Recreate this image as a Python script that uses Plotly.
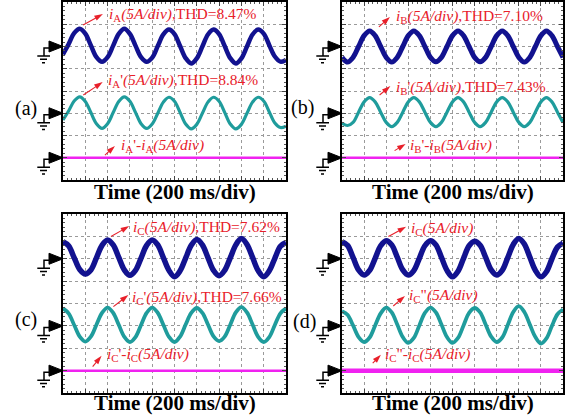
import plotly.graph_objects as go

W, H = 573, 420

# time axis in oscilloscope divisions (0.25 div sampling)
t_div = [k / 4 for k in range(41)]

# ---- panel (a): phase A ----
a_iA = [5.65, 6.10, 6.60, 6.80, 6.58, 6.05, 5.52, 5.31, 5.52, 6.04, 6.57, 6.80, 6.57, 6.04,
        5.52, 5.31, 5.50, 6.02, 6.55, 6.76, 6.56, 6.02, 5.48, 5.24, 5.47, 6.00, 6.54, 6.76,
        6.56, 6.02, 5.48, 5.24, 5.47, 6.00, 6.54, 6.76, 6.58, 6.06, 5.55, 5.32, 5.40]
a_iA2 = [2.70, 3.10, 3.55, 3.74, 3.53, 3.03, 2.53, 2.32, 2.53, 3.03, 3.53, 3.74, 3.54, 3.04,
         2.53, 2.32, 2.52, 3.00, 3.50, 3.72, 3.54, 3.04, 2.52, 2.30, 2.50, 3.00, 3.50, 3.72,
         3.54, 3.04, 2.52, 2.30, 2.50, 3.00, 3.50, 3.72, 3.55, 3.06, 2.56, 2.36, 2.42]
a_diff = [1.0] * 41

# ---- panel (b): phase B ----
b_iB = [5.51, 5.30, 5.51, 6.00, 6.49, 6.70, 6.49, 6.00, 5.51, 5.30, 5.51, 6.00, 6.49, 6.70,
        6.49, 6.00, 5.51, 5.31, 5.51, 6.00, 6.49, 6.70, 6.49, 6.00, 5.51, 5.31, 5.51, 6.00,
        6.49, 6.70, 6.49, 6.00, 5.51, 5.30, 5.51, 6.00, 6.49, 6.70, 6.49, 6.00, 5.51]
b_iB2 = [2.56, 2.45, 2.59, 3.05, 3.51, 3.70, 3.51, 3.05, 2.59, 2.40, 2.59, 3.05, 3.51, 3.70,
         3.51, 3.05, 2.59, 2.40, 2.59, 3.05, 3.51, 3.70, 3.51, 3.05, 2.59, 2.40, 2.59, 3.05,
         3.51, 3.70, 3.51, 3.05, 2.59, 2.40, 2.59, 3.05, 3.51, 3.70, 3.51, 3.05, 2.59]
b_diff = [1.0] * 41

# ---- panel (c): phase C ----
c_iC = [6.76, 6.58, 6.05, 5.52, 5.32, 5.50, 6.04, 6.60, 6.84, 6.62, 6.06, 5.50, 5.26, 5.48,
        6.03, 6.60, 6.84, 6.62, 6.05, 5.48, 5.20, 5.46, 6.03, 6.60, 6.86, 6.62, 6.05, 5.48,
        5.24, 5.48, 6.04, 6.62, 6.90, 6.64, 6.06, 5.47, 5.20, 5.46, 6.02, 6.56, 6.72]
c_iC2 = [3.78, 3.56, 3.04, 2.52, 2.30, 2.52, 3.05, 3.58, 3.82, 3.58, 3.05, 2.51, 2.28, 2.50,
         3.04, 3.58, 3.82, 3.58, 3.05, 2.51, 2.28, 2.52, 3.06, 3.58, 3.80, 3.58, 3.06, 2.53,
         2.32, 2.52, 3.05, 3.60, 3.84, 3.60, 3.06, 2.51, 2.28, 2.50, 3.04, 3.56, 3.78]
c_diff = [1.0] * 41

# ---- panel (d): phase C, second filter ----
d_iC = [6.76, 6.60, 6.06, 5.50, 5.27, 5.48, 6.02, 6.58, 6.81, 6.62, 6.07, 5.50, 5.27, 5.47,
        6.02, 6.58, 6.81, 6.62, 6.06, 5.48, 5.19, 5.44, 6.02, 6.58, 6.78, 6.60, 6.06, 5.50,
        5.27, 5.48, 6.05, 6.64, 6.91, 6.66, 6.07, 5.48, 5.19, 5.42, 6.00, 6.52, 6.70]
d_iC3 = [3.66, 3.50, 3.02, 2.50, 2.28, 2.48, 3.02, 3.56, 3.82, 3.60, 3.06, 2.50, 2.24, 2.46,
         3.02, 3.58, 3.82, 3.60, 3.06, 2.50, 2.24, 2.46, 3.02, 3.58, 3.80, 3.60, 3.06, 2.52,
         2.28, 2.48, 3.04, 3.62, 3.88, 3.62, 3.06, 2.50, 2.21, 2.44, 3.00, 3.52, 3.73]
d_diff = [1.0] * 41

ground_levels = [6, 3, 1]  # channel reference levels (div)

labels = {
    "a": ["<i>i</i><sub>A</sub><i>(5A/div)</i>,THD=8.47%",
          "<i>i</i><sub>A</sub>'<i>(5A/div)</i>,THD=8.84%",
          "<i>i</i><sub>A</sub>'-<i>i</i><sub>A</sub><i>(5A/div)</i>"],
    "b": ["<i>i</i><sub>B</sub><i>(5A/div)</i>,THD=7.10%",
          "<i>i</i><sub>B</sub>'<i>(5A/div)</i>,THD=7.43%",
          "<i>i</i><sub>B</sub>'-<i>i</i><sub>B</sub><i>(5A/div)</i>"],
    "c": ["<i>i</i><sub>C</sub><i>(5A/div)</i>,THD=7.62%",
          "<i>i</i><sub>C</sub>'<i>(5A/div)</i>,THD=7.66%",
          "<i>i</i><sub>C</sub>'-<i>i</i><sub>C</sub><i>(5A/div)</i>"],
    "d": ["<i>i</i><sub>C</sub><i>(5A/div)</i>",
          "<i>i</i><sub>C</sub>\"<i>(5A/div)</i>",
          "<i>i</i><sub>C</sub>\"-<i>i</i><sub>C</sub><i>(5A/div)</i>"],
}

BLUE = "#12128f"
TEAL = "#1f9c9c"
MAG = "#f022f0"
RED = "#e8202a"
SERIF = "Liberation Serif, Times New Roman, serif"

panels = [
    dict(key="a", box=(63, 286, 2, 180), data=[a_iA, a_iA2, a_diff], widths=[4.5, 3.2, 2.5],
         ann=[((1.97, 7.42), (1.79, 7.46), (0.90, 6.97)),
              ((1.93, 4.49), (1.78, 4.40), (0.91, 3.82)),
              ((2.51, 1.54), (2.33, 1.53), (1.88, 1.12))],
         tag=(26, 109), tshift=-12),
    dict(key="b", box=(342, 563, 2, 180), data=[b_iB, b_iB2, b_diff], widths=[5, 3.2, 2.5],
         ann=[((2.35, 7.34), (2.17, 7.33), (1.67, 6.88)),
              ((2.35, 4.17), (2.19, 4.22), (1.70, 3.82)),
              ((2.99, 1.57), (2.88, 1.62), (2.38, 1.32))],
         tag=(303, 108), tshift=-12),
    dict(key="c", box=(63, 286, 214, 393), data=[c_iC, c_iC2, c_diff], widths=[5.5, 3.8, 2.5],
         ann=[((3.05, 7.39), (2.97, 7.46), (2.15, 6.99)),
              ((3.00, 4.28), (2.93, 4.38), (2.26, 3.86)),
              ((1.88, 1.71), (1.73, 1.66), (1.33, 1.18))],
         tag=(26, 319), tshift=-10),
    dict(key="d", box=(342, 563, 214, 393), data=[d_iC, d_iC3, d_diff], widths=[5.5, 3.8, 4.5],
         ann=[((3.05, 7.33), (2.90, 7.43), (2.10, 6.99)),
              ((2.93, 4.38), (2.85, 4.34), (2.32, 3.89)),
              ((1.87, 1.71), (1.76, 1.71), (1.39, 1.33))],
         tag=(304, 321), tshift=-10),
]

fig = go.Figure()
layout = dict(width=W, height=H, margin=dict(l=0, r=0, t=0, b=0), autosize=False,
              paper_bgcolor="white", plot_bgcolor="white", showlegend=False)
annotations = []
shapes = []

tri_path = "M 0 0 L -14 5.5 L -14 -5.5 Z"
gnd_path = ("M -14 -1.5 L -19 -1.5 L -19 -9.5 M -25.7 -9.5 L -13 -9.5 "
            "M -23 -12.8 L -16 -12.8 M -21 -16.2 L -18 -16.2")

for i, p in enumerate(panels):
    n = "" if i == 0 else str(i + 1)
    xa, ya = "x" + n, "y" + n
    x0, x1, top, bot = p["box"]
    axis_common = dict(showticklabels=False, showline=True, linecolor="black", linewidth=1.5,
                       mirror="ticks", ticks="inside", ticklen=4, tickcolor="#444",
                       showgrid=True, gridcolor="#9a9a9a", griddash="dot", gridwidth=1,
                       zeroline=False, dtick=1, tick0=0, fixedrange=True,
                       minor=dict(ticks="inside", dtick=0.2, ticklen=2.5, tickcolor="#555",
                                  showgrid=False))
    layout["xaxis" + n] = dict(axis_common, range=[0, 10], domain=[x0 / W, x1 / W], anchor=ya)
    layout["yaxis" + n] = dict(axis_common, range=[0, 8], domain=[1 - bot / H, 1 - top / H],
                               anchor=xa)
    for vals, col, lw in zip(p["data"], [BLUE, TEAL, MAG], p["widths"]):
        fig.add_trace(go.Scatter(x=t_div, y=vals, mode="lines", xaxis=xa, yaxis=ya,
                                 line=dict(color=col, width=lw, shape="spline", smoothing=1),
                                 hoverinfo="skip"))
    for txt, (tpos, tip, tail) in zip(labels[p["key"]], p["ann"]):
        annotations.append(dict(x=tpos[0], y=tpos[1], xref=xa, yref=ya, text=txt,
                                showarrow=False, xanchor="left", yanchor="middle",
                                font=dict(family=SERIF, size=15.5, color=RED)))
        # red pointer arrow: tail on the waveform, head next to the label
        fig.add_trace(go.Scatter(x=[tail[0], tip[0]], y=[tail[1], tip[1]], mode="lines+markers",
                                 xaxis=xa, yaxis=ya, hoverinfo="skip",
                                 line=dict(color=RED, width=1.1),
                                 marker=dict(symbol="arrow", size=9, angleref="previous",
                                             color=RED, line=dict(width=0))))
    # panel tag and time label
    annotations.append(dict(x=p["tag"][0] / W, y=1 - p["tag"][1] / H, xref="paper", yref="paper",
                            text="(" + p["key"] + ")", showarrow=False,
                            xanchor="center", yanchor="middle",
                            font=dict(family=SERIF, size=20, color="black")))
    annotations.append(dict(x=0.5, y=0, xref=xa + " domain", yref=ya + " domain",
                            text="<b>Time (200 ms/div)</b>", showarrow=False,
                            xanchor="center", yanchor="middle", yshift=p["tshift"],
                            font=dict(family=SERIF, size=21, color="black")))
    # ground reference markers
    for g in ground_levels:
        gy = bot - g / 8 * (bot - top)
        common = dict(type="path", xref="paper", yref="paper", xsizemode="pixel",
                      ysizemode="pixel", xanchor=x0 / W, yanchor=1 - gy / H, layer="above")
        shapes.append(dict(common, path=tri_path, fillcolor="black",
                           line=dict(color="black", width=1)))
        shapes.append(dict(common, path=gnd_path, line=dict(color="black", width=1.5)))

layout["annotations"] = annotations
layout["shapes"] = shapes
fig.update_layout(**layout)
fig.write_html("out.html", config={"displayModeBar": False},
               post_script="document.body.style.margin='0px';")
